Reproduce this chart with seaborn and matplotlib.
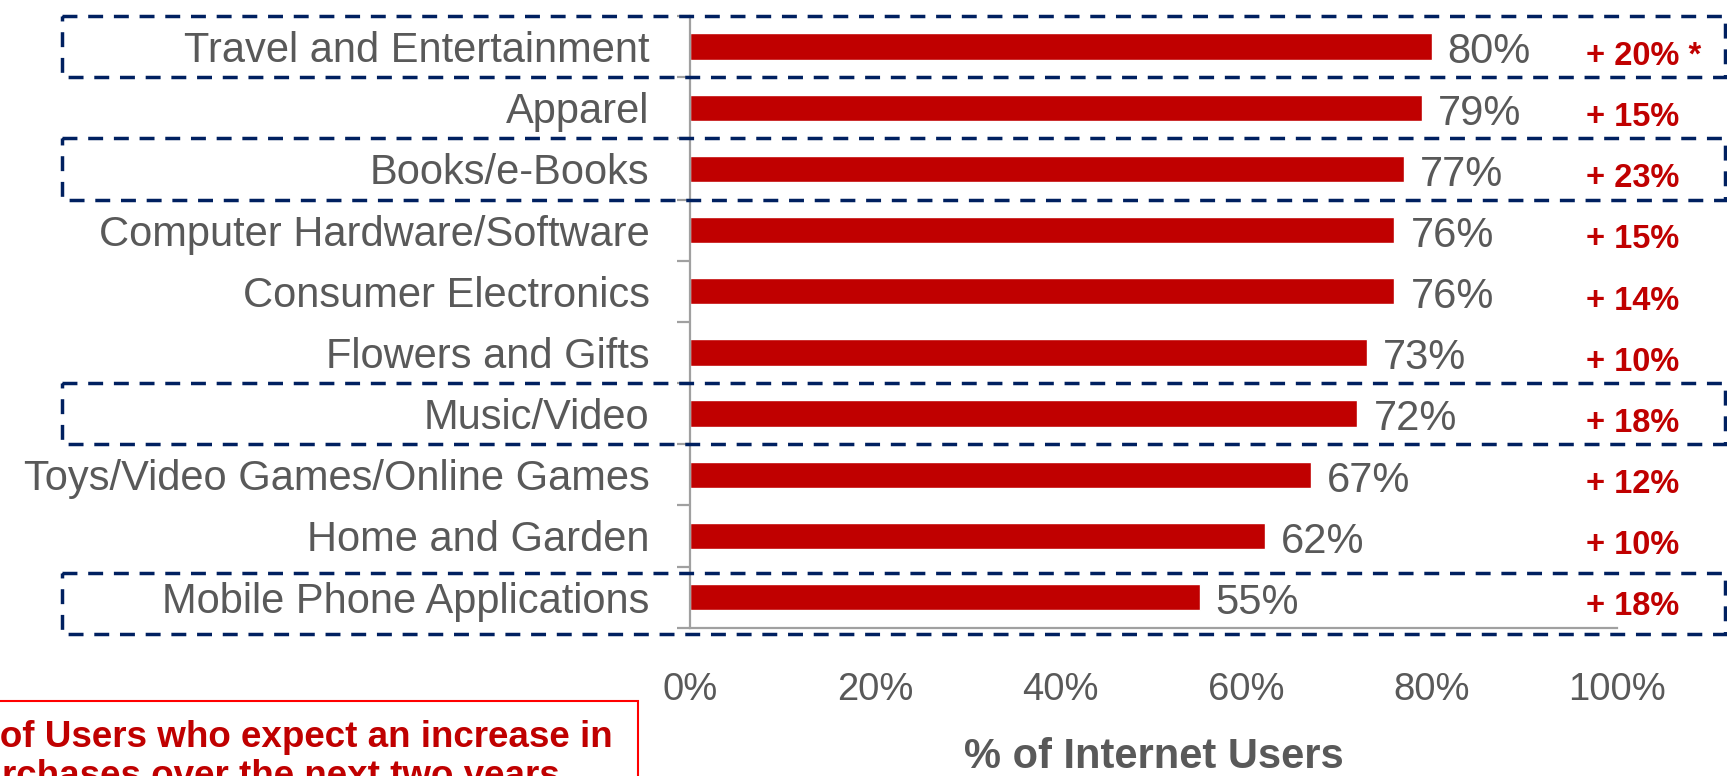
import matplotlib
matplotlib.use("Agg")
import matplotlib.pyplot as plt
from matplotlib.patches import Rectangle
from matplotlib.transforms import blended_transform_factory
from matplotlib.ticker import FixedLocator, FuncFormatter
import seaborn as sns

# --- data -------------------------------------------------------------
categories = [
    "Travel and Entertainment",
    "Apparel",
    "Books/e-Books",
    "Computer Hardware/Software",
    "Consumer Electronics",
    "Flowers and Gifts",
    "Music/Video",
    "Toys/Video Games/Online Games",
    "Home and Garden",
    "Mobile Phone Applications",
]
share_pct = [80, 79, 77, 76, 76, 73, 72, 67, 62, 55]
expected_increase = ["+ 20% *", "+ 15%", "+ 23%", "+ 15%", "+ 14%",
                     "+ 10%", "+ 18%", "+ 12%", "+ 10%", "+ 18%"]
highlighted = ["Travel and Entertainment", "Books/e-Books",
               "Music/Video", "Mobile Phone Applications"]
x_ticks = [0, 20, 40, 60, 80, 100]
x_label = "% of Internet Users"
note_lines = ["% of Users who expect an increase in",
              "purchases over the next two years"]

# --- style ------------------------------------------------------------
sns.set_theme(style="white")
plt.rcParams["font.family"] = ["Liberation Sans", "DejaVu Sans"]

BAR_RED = "#C00000"
TEXT_GREY = "#595959"
AXIS_GREY = "#A0A0A0"
NAVY = "#002060"

fig = plt.figure(figsize=(17.27, 7.76), dpi=100)
ax = fig.add_axes([0.3995, 0.1911, 0.5368, 0.7883])

sns.barplot(x=share_pct, y=categories, orient="h", color=BAR_RED,
            saturation=1, width=0.43, ax=ax)

ax.set_xlim(0, 100)
ax.set_ylim(len(categories) - 0.5, -0.5)

# spines: only left and bottom, grey
for side in ("top", "right"):
    ax.spines[side].set_visible(False)
for side in ("left", "bottom"):
    ax.spines[side].set_color(AXIS_GREY)
    ax.spines[side].set_linewidth(1.6)

# x axis
ax.set_xticks(x_ticks)
ax.xaxis.set_major_formatter(FuncFormatter(lambda v, _: f"{v:.0f}%"))
ax.tick_params(axis="x", direction="out", length=10, width=1.6,
               color=AXIS_GREY, pad=22, labelsize=27.5, labelcolor=TEXT_GREY)
ax.set_xlabel(x_label, fontsize=30, fontweight="bold", color=TEXT_GREY)
ax.xaxis.set_label_coords(0.5, -0.179)

# y axis: labels at bar centres, tick marks between categories
ax.tick_params(axis="y", which="major", length=0, pad=29,
               labelsize=30, labelcolor=TEXT_GREY)
ax.yaxis.set_minor_locator(
    FixedLocator([i - 0.5 for i in range(len(categories) + 1)]))
ax.tick_params(axis="y", which="minor", direction="out", length=9.5,
               width=1.6, color=AXIS_GREY, left=True)
ax.set_ylabel("")

# value labels at bar ends
for i, bar in enumerate(ax.containers[0]):
    val = bar.get_width()
    ax.annotate(f"{val:.0f}%", xy=(val, i + 0.275), xytext=(11.5, 0),
                textcoords="offset points", ha="left", va="baseline",
                fontsize=30, color=TEXT_GREY)

# expected-increase column on the right
for i, txt in enumerate(expected_increase):
    ax.text(96.66, i + 0.30, txt, ha="left", va="baseline",
            fontsize=23.5, fontweight="bold", color=BAR_RED, clip_on=False)

# dashed boxes around highlighted categories
box_tf = blended_transform_factory(fig.transFigure, ax.transData)
box_shift = {"Mobile Phone Applications": 0.1}
x0, x1 = 61.7 / 1727, 1725 / 1727
for name in highlighted:
    row = categories.index(name)
    top = row - 0.5 + box_shift.get(name, 0.0)
    fig.add_artist(Rectangle((x0, top), x1 - x0, 1.0, transform=box_tf,
                             fill=False, edgecolor=NAVY, linewidth=2.5,
                             linestyle=(0, (4.3, 3.1)), clip_on=False,
                             zorder=5))

# note box in the lower-left corner
fig.add_artist(Rectangle((-0.05, -0.1), 637.7 / 1727 + 0.05,
                         0.1 + (1 - 701 / 776), transform=fig.transFigure,
                         fill=False, edgecolor="#FF0000", linewidth=1.5))
note_x = -43 / 1727
fig.text(note_x, 1 - 747 / 776, note_lines[0], ha="left", va="baseline",
         fontsize=26.5, fontweight="bold", color=BAR_RED)
fig.text(note_x, 1 - 786 / 776, note_lines[1], ha="left", va="baseline",
         fontsize=26.5, fontweight="bold", color=BAR_RED)

fig.savefig("out.png", dpi=100)
